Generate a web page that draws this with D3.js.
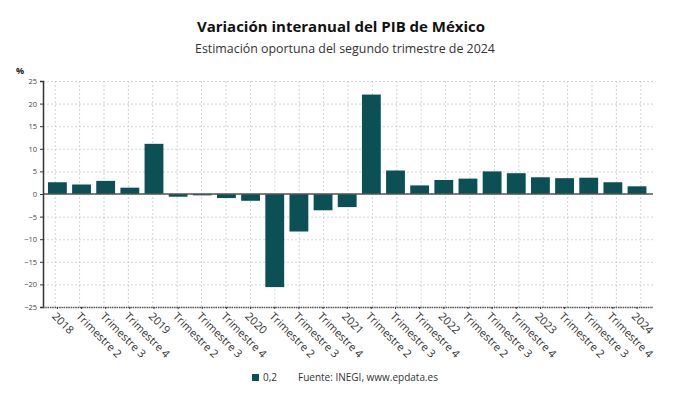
<!DOCTYPE html>
<html><head><meta charset="utf-8">
<script src="https://cdn.jsdelivr.net/npm/d3@7"></script>
<style>body{margin:0;background:#fff;font-family:"Open Sans",sans-serif;}</style>
</head><body>
<svg id="c" width="690" height="405"></svg>
<script>
const categories = ["2018","Trimestre 2","Trimestre 3","Trimestre 4","2019","Trimestre 2","Trimestre 3","Trimestre 4","2020","Trimestre 2","Trimestre 3","Trimestre 4","2021","Trimestre 2","Trimestre 3","Trimestre 4","2022","Trimestre 2","Trimestre 3","Trimestre 4","2023","Trimestre 2","Trimestre 3","Trimestre 4","2024"];
const values = [2.6,2.1,2.9,1.4,11.1,-0.6,-0.3,-0.9,-1.5,-20.6,-8.3,-3.6,-2.9,22.0,5.2,1.9,3.1,3.4,5.0,4.6,3.7,3.5,3.6,2.6,1.7];
const yTicks = [25,20,15,10,5,0,-5,-10,-15,-20,-25];
const legendLabel = "0,2";
const title = "Variación interanual del PIB de México";
const subtitle = "Estimación oportuna del segundo trimestre de 2024";
const source = "Fuente: INEGI, www.epdata.es";

const svg = d3.select("#c");
const L = 43, R = 653, T = 81, B = 307;
const y = d3.scaleLinear().domain([-25,25]).range([B,T]);
const idx = categories.map((d,i)=>i);
const xGrid = d3.scaleBand().domain(idx).range([L,R]).padding(0);
const x = d3.scaleBand().domain(idx).range([45.3,649.1]).paddingInner(0.22).paddingOuter(0.11);
const color = "#0b5055";

svg.append("text").attr("x",341).attr("y",32).attr("text-anchor","middle")
  .attr("font-size",15).attr("font-weight",700).attr("fill","#111").text(title);
svg.append("text").attr("x",345).attr("y",53).attr("text-anchor","middle")
  .attr("font-size",12.4).attr("fill","#333").text(subtitle);

// grid
const g = svg.append("g");
g.selectAll(".hg").data(yTicks).join("line")
  .attr("x1",L).attr("x2",R).attr("y1",d=>y(d)+0.5).attr("y2",d=>y(d)+0.5)
  .attr("stroke","#c8c8d0").attr("stroke-width",0.8).attr("stroke-dasharray","2,2");
g.selectAll(".vg").data(idx).join("line")
  .attr("x1",d=>xGrid(d)+xGrid.bandwidth()/2).attr("x2",d=>xGrid(d)+xGrid.bandwidth()/2)
  .attr("y1",T).attr("y2",B)
  .attr("stroke","#c8c8d0").attr("stroke-width",0.8).attr("stroke-dasharray","2,2");

// bars
svg.selectAll(".bar").data(values).join("rect")
  .attr("x",(d,i)=>x(i)).attr("width",x.bandwidth())
  .attr("y",d=>y(Math.max(0,d))).attr("height",d=>Math.abs(y(d)-y(0)))
  .attr("fill",color);

// zero line
svg.append("line").attr("x1",L).attr("x2",R).attr("y1",y(0)).attr("y2",y(0))
  .attr("stroke","#555").attr("stroke-width",1.3);

// y axis
const ya = svg.append("g").attr("transform",`translate(${L},0)`)
  .call(d3.axisLeft(y).tickValues(yTicks).tickSize(3).tickPadding(3));
ya.select(".domain").attr("stroke","#333").attr("stroke-width",1.5);
ya.selectAll(".tick line").attr("stroke","#333");
ya.selectAll("text").attr("font-family","Open Sans").attr("font-size",7.5).attr("fill","#444");

svg.append("text").attr("x",16).attr("y",74).attr("font-size",9).attr("font-weight",700)
  .attr("fill","#222").text("%");

// x axis
svg.append("line").attr("x1",L).attr("x2",R).attr("y1",B+0.5).attr("y2",B+0.5)
  .attr("stroke","#555").attr("stroke-width",1.6).attr("stroke-dasharray","1.5,0.8");
const xa = svg.append("g").attr("transform",`translate(0,${B})`)
  .call(d3.axisBottom(x).tickSize(2).tickFormat(i=>categories[i]));
xa.select(".domain").remove();
xa.selectAll(".tick line").attr("stroke","#333");
xa.selectAll("text").attr("font-family","Open Sans").attr("font-size",11).attr("fill","#333")
  .attr("text-anchor","start").attr("dy",0).attr("y",0)
  .attr("transform","translate(-6,10) rotate(45)");

// legend
svg.append("rect").attr("x",252).attr("y",374).attr("width",7).attr("height",7).attr("fill",color);
svg.append("text").attr("x",263).attr("y",381).attr("font-size",10).attr("fill","#333").text(legendLabel);
svg.append("text").attr("x",298).attr("y",381).attr("font-size",10).attr("fill","#333").text(source);
</script>
</body></html>
